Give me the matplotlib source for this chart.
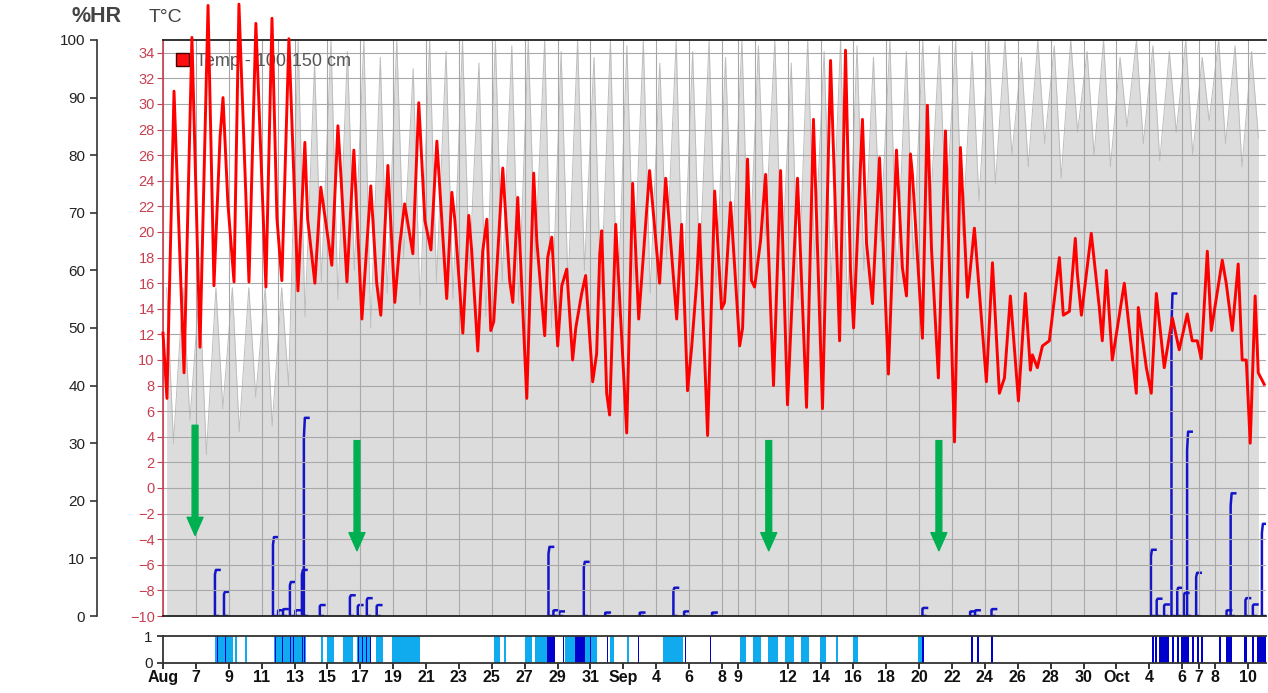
import matplotlib
matplotlib.use('Agg')
import matplotlib.pyplot as plt
from matplotlib.patches import Patch
import numpy as np

plt.rcParams['font.family'] = ['Liberation Sans', 'DejaVu Sans']

# x axis in days since Aug 5
tick_days = [0, 2, 4, 6, 8, 10, 12, 14, 16, 18, 20, 22, 24, 26, 28, 30, 32, 34, 35,
             38, 40, 42, 44, 46, 48, 50, 52, 54, 56, 58, 60, 62, 63, 64, 66]
tick_labels = ['Aug', '7', '9', '11', '13', '15', '17', '19', '21', '23', '25', '27', '29', '31',
               'Sep', '4', '6', '8', '9', '12', '14', '16', '18', '20', '22', '24', '26', '28', '30',
               'Oct', '4', '6', '7', '8', '10']
extra_grid_days = [7, 36]

# temperature 100-150 cm (turning points)
temp_day = [0.00, 0.24, 0.67, 1.28, 1.76, 2.25, 2.74, 3.10, 3.47, 3.65, 3.95, 4.32, 4.62, 5.23, 5.65,
            6.26, 6.63, 6.93, 7.23, 7.66, 8.21, 8.63, 8.80, 9.24, 9.60, 10.27, 10.64, 10.75, 11.19,
            11.61, 12.10, 12.64, 13.00, 13.25, 13.68, 14.10, 14.40, 14.70, 15.20, 15.56, 15.93,
            16.30, 16.66,
            17.26, 17.57, 17.75, 18.24, 18.60, 18.78, 19.15, 19.45, 19.70, 19.94, 20.12, 20.67,
            21.09, 21.28, 21.58, 22.13, 22.55, 22.74, 23.22, 23.40, 23.65, 24.01, 24.26, 24.56,
            24.92, 25.11, 25.47, 25.71, 26.14, 26.38, 26.57, 26.69, 26.99, 27.17, 27.54, 28.21,
            28.57, 28.94, 29.60, 30.09, 30.21, 30.58, 31.25, 31.55, 31.91, 32.16, 32.46, 32.64,
            33.13, 33.56, 33.98, 34.16, 34.53, 35.08, 35.26, 35.56, 35.80, 35.99, 36.35, 36.66,
            37.14, 37.57, 37.99, 38.60, 39.15, 39.57, 40.12, 40.61, 41.16, 41.52, 41.82, 42.01,
            42.55, 42.80, 43.16, 43.59, 44.13, 44.62, 44.98, 45.23, 45.47, 45.59, 46.20, 46.50,
            46.75, 47.17, 47.60, 48.15, 48.51, 48.94, 49.36, 50.09,
            50.46, 50.88, 51.19, 51.55, 52.04, 52.46, 52.77, 52.89, 53.19, 53.50, 53.92, 54.53,
            54.77, 55.14, 55.50, 55.62, 55.87, 56.47, 56.96, 57.14, 57.39, 57.75, 58.48, 59.21,
            59.33, 59.82, 60.12, 60.43, 60.91, 61.40, 61.82, 62.31, 62.61, 62.92, 63.16, 63.53,
            63.77, 64.44, 64.68, 65.05, 65.41, 65.65, 65.90, 66.14, 66.44, 66.63, 66.99]
temp_c = [12.1, 7.0, 31.0, 9.0, 35.2, 11.0, 37.7, 15.8, 27.4, 30.5, 22.2, 16.1, 37.8, 16.1, 36.3,
          15.7, 36.7, 21.1, 16.2, 35.1, 15.4, 27.0, 21.0, 16.0, 23.5, 17.4, 28.3, 26.0, 16.1,
          26.4, 13.2, 23.6, 16.0, 13.5, 25.2, 14.5, 19.0, 22.2, 18.3, 30.1, 20.9,
          18.6, 27.1,
          14.8, 23.1, 21.0, 12.1, 21.3, 18.5, 10.7, 18.5, 21.0, 12.3, 13.0, 25.0,
          16.2, 14.5, 22.7, 7.0, 24.6, 19.3, 11.9, 18.0, 19.6, 11.1, 15.8, 17.1,
          10.0, 12.5, 15.2, 16.6, 8.3, 10.5, 18.3, 20.1, 7.4, 5.7, 20.6, 4.3,
          23.8, 13.2, 24.8, 17.8, 16.0, 24.2, 13.2, 20.6, 7.6, 11.0, 16.0, 20.6,
          4.1, 23.2, 14.0, 14.5, 22.3, 11.1, 12.5, 25.7, 16.2, 15.7, 19.3, 24.5,
          8.0, 24.8, 6.5, 24.2, 6.3, 28.8, 6.2, 33.4, 11.5, 34.2, 17.1, 12.5,
          28.8, 19.1, 14.4, 25.8, 8.9, 26.4, 17.2, 15.0, 26.1, 24.5, 11.7, 29.9,
          18.7, 8.6, 27.9, 3.6, 26.6, 14.9, 20.3, 8.3,
          17.6, 7.4, 8.6, 15.0, 6.8, 15.2, 9.2, 10.4, 9.4, 11.1, 11.5, 18.0,
          13.5, 13.8, 19.5, 16.8, 13.5, 19.9, 14.1, 11.5, 17.0, 10.0, 16.0, 7.4,
          14.1, 9.4, 7.4, 15.2, 9.4, 13.3, 10.8, 13.6, 11.5, 11.5, 10.1, 18.5,
          12.3, 17.8, 16.0, 12.3, 17.5, 10.0, 10.0, 3.5, 15.0, 9.0, 8.1]

# relative humidity, daily max (night) and min (afternoon)
hr_max = [57, 57, 57, 57, 57, 57, 57, 57,
          100, 96, 100, 98, 100, 97, 100, 95, 100,
          98, 100, 96, 100, 99, 100, 100, 98, 100, 97,
          100, 99, 100, 96, 100, 98, 100, 97, 100, 99,
          100, 96, 100, 98, 100, 99, 97, 100, 98, 100,
          99, 100, 98, 100, 100, 97, 100, 99, 100, 98,
          100, 97, 100, 99, 98, 100, 97, 100, 99, 98]
hr_min = [30, 34, 28, 36, 32, 38, 33, 40,
          52, 58, 55, 60, 50, 56, 62, 54, 58,
          55, 60, 52, 58, 54, 62, 50, 57, 60, 55,
          52, 58, 56, 62, 54, 60, 57, 63, 58, 66,
          60, 55, 62, 58, 53, 60, 65, 58, 62, 68,
          70, 66, 72, 75, 80, 78, 82, 76, 84, 80,
          78, 85, 82, 79, 84, 80, 86, 82, 78, 83]

# blue events (start day, peak in %HR units)
blue_start = [3.16, 3.71, 6.69, 7.00, 7.30, 7.72, 8.05, 8.45, 8.57, 9.54, 11.37, 11.85, 12.40, 13.00,
              23.45, 23.75, 24.10, 25.60, 26.90, 29.00, 31.05, 31.70, 33.40, 46.20, 49.10, 49.40,
              50.40, 60.10, 60.45, 60.90, 61.35, 61.70, 62.10, 62.30, 62.85, 64.70, 64.95, 65.85,
              66.30, 66.85]
blue_peak = [8.0, 4.2, 13.7, 1.0, 1.2, 5.9, 1.0, 8.0, 34.4, 1.9, 3.6, 1.9, 3.1, 1.9,
             12.0, 1.0, 0.8, 9.4, 0.6, 0.6, 4.9, 0.8, 0.6, 1.4, 0.8, 1.0,
             1.2, 11.5, 3.0, 2.0, 56.0, 4.9, 4.0, 32.0, 7.5, 1.0, 21.3, 3.1,
             2.0, 16.0]

# bottom strip 0/1 spans
light_spans = [(3.16, 4.26), (4.38, 4.50), (4.98, 5.10), (6.75, 8.69), (9.60, 9.73), (9.98, 10.40),
               (10.94, 11.55), (11.79, 12.58), (12.95, 13.37), (13.92, 15.62), (20.12, 20.49),
               (20.73, 20.85), (22.01, 22.43), (22.61, 23.83), (24.44, 26.38), (27.17, 27.42),
               (28.21, 28.33), (30.40, 31.61), (35.08, 35.44), (35.87, 36.35), (36.78, 37.39),
               (37.81, 38.36), (38.84, 39.27), (39.94, 40.36), (40.97, 41.09), (41.95, 42.31),
               (45.90, 46.32)]
dark_spans = [(3.28, 3.36), (3.77, 3.85), (6.81, 6.89), (7.23, 7.31), (7.72, 7.80), (7.90, 7.98),
              (8.45, 8.53), (8.57, 8.65), (11.85, 11.93), (12.10, 12.18), (12.34, 12.42),
              (12.58, 12.66), (23.34, 23.83), (24.32, 24.40), (25.05, 25.65), (25.96, 26.04),
              (26.99, 27.07), (28.88, 28.96), (31.73, 31.81), (33.25, 33.33), (46.20, 46.30),
              (49.18, 49.26), (49.54, 49.62), (50.40, 50.50), (60.18, 60.26), (60.36, 60.44),
              (60.61, 61.22), (61.40, 61.48), (61.70, 61.78), (61.95, 62.43), (62.61, 62.69),
              (62.92, 63.00), (63.16, 63.24), (64.26, 64.34), (64.68, 65.05), (65.78, 65.96),
              (66.26, 66.34), (66.57, 67.10)]

# green arrows (day, top, tip in deg C)
arrow_day = [1.95, 11.8, 36.85, 47.2]
arrow_top = [4.9, 3.7, 3.7, 3.7]
arrow_tip = [-3.7, -4.9, -4.9, -4.9]

W, H = 1268, 693
x0, x1 = 163, 1266
fig = plt.figure(figsize=(W / 100, H / 100), dpi=100)
ax_hr = fig.add_axes([x0 / W, 1 - 616 / H, (x1 - x0) / W, (616 - 40) / H])
ax_t = ax_hr.twinx()
ax_s = fig.add_axes([x0 / W, 1 - 663 / H, (x1 - x0) / W, 27 / H])

xmax = 67.1

# humidity fill
hr_t = []
hr_v = []
for i in range(len(hr_max)):
    hr_t += [i + 0.22, i + 0.64]
    hr_v += [hr_max[i], hr_min[i]]
ax_hr.fill_between(hr_t, 0, hr_v, color='#dcdcdc', lw=0)
ax_hr.plot(hr_t, hr_v, color='#bdbdbd', lw=0.7)

# blue line
for t, p in zip(blue_start, blue_peak):
    ax_hr.plot([t + 0.18, t, t, t + 0.06, t + 0.28], [0, 0, 0.9 * p, p, p],
               color='#1414c8', lw=1.8, solid_joinstyle='round')

ax_hr.set_xlim(0, xmax)
ax_hr.set_ylim(0, 100)
ax_hr.set_yticks(range(0, 101, 10))
ax_hr.spines['left'].set_position(('outward', 47.5))
ax_hr.spines['left'].set_color('#333333')
ax_hr.spines['left'].set_linewidth(1.2)
for s in ['top', 'right', 'bottom']:
    ax_hr.spines[s].set_visible(False)
ax_hr.tick_params(axis='y', colors='#333333', labelsize=11, length=5, width=1.2)
ax_hr.tick_params(axis='y', labelcolor='#222222')
ax_hr.set_xticks(tick_days + extra_grid_days)
ax_hr.tick_params(axis='x', length=0, labelbottom=False)

# temperature axis
ax_t.yaxis.tick_left()
ax_t.set_ylim(-10, 35)
ax_t.set_yticks(range(-10, 35, 2))
ax_t.xaxis.set_visible(True)
ax_t.tick_params(axis='x', length=0, labelbottom=False)
ax_t.tick_params(axis='y', colors='#c84050', labelsize=10.5, length=4, pad=2)
ax_t.grid(True, color='#a8a8a8', lw=0.8)
ax_t.spines['left'].set_color('#c84050')
ax_t.spines['left'].set_linewidth(1.2)
ax_t.spines['right'].set_visible(False)
ax_t.spines['top'].set_color('#222222')
ax_t.spines['top'].set_linewidth(1.3)
ax_t.spines['bottom'].set_color('#222222')
ax_t.spines['bottom'].set_linewidth(1.3)
ax_t.plot(temp_day, temp_c, color='#ff0000', lw=2.1, clip_on=False, zorder=4,
          solid_joinstyle='round')

leg = ax_t.legend(handles=[Patch(facecolor='#ff1010', edgecolor='#400000')],
                  labels=['Temp - 100-150 cm'], loc='upper left', bbox_to_anchor=(0.0, 1.0),
                  frameon=False, fontsize=13, handlelength=0.75, handleheight=0.75,
                  handletextpad=0.35, borderaxespad=0.3, labelcolor='#555555')
leg.set_zorder(2)

for d, a, b in zip(arrow_day, arrow_top, arrow_tip):
    ax_t.annotate('', xy=(d, b), xytext=(d, a),
                  arrowprops=dict(arrowstyle='simple,head_length=1.3,head_width=1.15,tail_width=0.42',
                                  color='#00b050', shrinkA=0, shrinkB=0, mutation_scale=10),
                  zorder=5)

# bottom strip
for a, b in light_spans:
    ax_s.axvspan(a, b, color='#10aaee', lw=0)
for a, b in dark_spans:
    ax_s.axvspan(a, b, color='#0000cc', lw=0)
ax_s.set_xlim(0, xmax)
ax_s.set_ylim(0, 1)
ax_s.set_yticks([0, 1])
ax_s.set_xticks(tick_days)
ax_s.set_xticklabels(tick_labels, fontweight='bold', fontsize=11.5)
ax_s.tick_params(axis='x', length=4, width=1.2, colors='#111111', pad=1)
ax_s.tick_params(axis='y', length=4, width=1.2, colors='#222222', labelsize=11)
ax_s.spines['right'].set_visible(False)
for s in ['top', 'bottom', 'left']:
    ax_s.spines[s].set_color('#333333')
    ax_s.spines[s].set_linewidth(1.3)

fig.text(97 / W, 1 - 17 / H, '%HR', fontsize=15.5, fontweight='bold', color='#444444',
         ha='center', va='center')
fig.text(165 / W, 1 - 17 / H, 'T\u00b0C', fontsize=14, color='#444444',
         ha='center', va='center')

fig.savefig('out.png', dpi=100)
